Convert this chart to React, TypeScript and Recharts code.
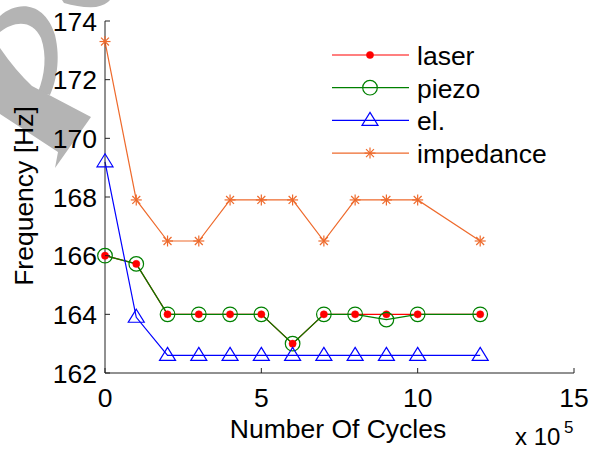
import { Line, LineChart, XAxis, YAxis } from "recharts";

const cycles = [0, 1, 2, 3, 4, 5, 6, 7, 8, 9, 10, 12];
const laser = [166, 165.72, 164, 164, 164, 164, 163, 164, 164, 164, 164, 164];
const piezo = [166, 165.72, 164, 164, 164, 164, 163, 164, 164, 163.82, 164, 164];
const electric = [169.2, 163.9, 162.6, 162.6, 162.6, 162.6, 162.6, 162.6, 162.6, 162.6, 162.6, 162.6];
const impedance = [173.3, 167.9, 166.5, 166.5, 167.9, 167.9, 167.9, 166.5, 167.9, 167.9, 167.9, 166.5];

const xTicks = [0, 5, 10, 15];
const yTicks = [162, 164, 166, 168, 170, 172, 174];

const seriesNames = ["laser", "piezo", "el.", "impedance"];

const RED = "#ff0000";
const GREEN = "#008000";
const BLUE = "#0000ff";
const ORANGE = "#ee6a2c";
const FONT = "'Liberation Sans', Arial, sans-serif";
const FS = 26.5;

const data = cycles.map((c, i) => ({
  x: c,
  laser: laser[i],
  piezo: piezo[i],
  el: electric[i],
  impedance: impedance[i],
}));

type DotProps = { cx?: number; cy?: number; index?: number };

function RedDot({ cx = 0, cy = 0 }: DotProps) {
  return <circle cx={cx} cy={cy} r={3.6} fill={RED} stroke={RED} strokeWidth={0.5} />;
}

function RingDot({ cx = 0, cy = 0 }: DotProps) {
  return <circle cx={cx} cy={cy} r={7.3} fill="none" stroke={GREEN} strokeWidth={1.2} />;
}

function TriDot({ cx = 0, cy = 0 }: DotProps) {
  return (
    <path
      d={`M${cx},${cy - 8} L${cx + 8},${cy + 5} L${cx - 8},${cy + 5} Z`}
      fill="none"
      stroke={BLUE}
      strokeWidth={1.2}
    />
  );
}

function StarDot({ cx = 0, cy = 0 }: DotProps) {
  const r = 5.5;
  const d = r * 0.72;
  return (
    <g stroke={ORANGE} strokeWidth={1.2}>
      <line x1={cx - r} y1={cy} x2={cx + r} y2={cy} />
      <line x1={cx} y1={cy - r} x2={cx} y2={cy + r} />
      <line x1={cx - d} y1={cy - d} x2={cx + d} y2={cy + d} />
      <line x1={cx - d} y1={cy + d} x2={cx + d} y2={cy - d} />
    </g>
  );
}

// ticks drawn pointing into the plot, MATLAB style
function YTick({ x = 0, y = 0, payload }: any) {
  const ax = x + 8;
  return (
    <g>
      <line x1={ax} y1={y} x2={ax + 5} y2={y} stroke="#222" strokeWidth={1} />
      <text x={x} y={y + 9.5} textAnchor="end" fontSize={FS} fontFamily={FONT} fill="#000">
        {payload.value}
      </text>
    </g>
  );
}

function XTick({ x = 0, y = 0, payload }: any) {
  const ay = y - 8;
  return (
    <g>
      <line x1={x} y1={ay} x2={x} y2={ay - 5} stroke="#222" strokeWidth={1} />
      <text x={x} y={ay + 34} textAnchor="middle" fontSize={FS} fontFamily={FONT} fill="#000">
        {payload.value}
      </text>
    </g>
  );
}

const legendRows = [
  { name: seriesNames[0], color: RED, Marker: RedDot },
  { name: seriesNames[1], color: GREEN, Marker: RingDot },
  { name: seriesNames[2], color: BLUE, Marker: TriDot },
  { name: seriesNames[3], color: ORANGE, Marker: StarDot },
];

function LegendBox() {
  return (
    <g>
      {legendRows.map((row, i) => {
        const y = 55 + i * 32.7;
        const M = row.Marker;
        return (
          <g key={row.name}>
            <line x1={332} y1={y} x2={409} y2={y} stroke={row.color} strokeWidth={1.2} />
            <M cx={370} cy={y} />
            <text x={417} y={y + 10} fontSize={FS} fontFamily={FONT} fill="#000">
              {row.name}
            </text>
          </g>
        );
      })}
    </g>
  );
}

export default function App() {
  return (
    <div style={{ position: "absolute", left: 0, top: 0, width: 592, height: 451, background: "#fff" }}>
      <svg width={592} height={451} style={{ position: "absolute", left: 0, top: 0 }}>
        <g fill="#b4b4b4">
          <path d="M62,0 L110,0 Q106,5 96,7 Q80,8 64,3 Z" />
          <path d="M0,16 C18,0 45,2 55,35 C61,60 56,82 50,95 L38,92 C45,75 47,55 41,38 C33,20 15,20 0,32 Z" />
          <path d="M0,48 Q15,70 32,86 L91,117 L55,168 L58,152 L0,114 Z" />
        </g>
      </svg>
      <div style={{ position: "absolute", left: 0, top: 0 }}>
        <LineChart width={592} height={451} data={data} margin={{ top: 21, right: 18, bottom: 28, left: 35 }}>
          <XAxis
            dataKey="x"
            type="number"
            domain={[0, 15]}
            ticks={xTicks}
            height={50}
            tickSize={0}
            tickMargin={8}
            tickLine={false}
            axisLine={{ stroke: "#222", strokeWidth: 1 }}
            tick={<XTick />}
            interval={0}
          />
          <YAxis
            type="number"
            domain={[162, 174]}
            ticks={yTicks}
            width={70}
            tickSize={0}
            tickMargin={8}
            tickLine={false}
            axisLine={{ stroke: "#222", strokeWidth: 1 }}
            tick={<YTick />}
            interval={0}
          />
          <Line dataKey="laser" stroke={RED} strokeWidth={1.2} dot={<RedDot />} isAnimationActive={false} type="linear" />
          <Line dataKey="piezo" stroke={GREEN} strokeWidth={1.2} dot={<RingDot />} isAnimationActive={false} type="linear" />
          <Line dataKey="el" stroke={BLUE} strokeWidth={1.2} dot={<TriDot />} isAnimationActive={false} type="linear" />
          <Line dataKey="impedance" stroke={ORANGE} strokeWidth={1.2} dot={<StarDot />} isAnimationActive={false} type="linear" />
        </LineChart>
      </div>
      <svg width={592} height={451} style={{ position: "absolute", left: 0, top: 0, pointerEvents: "none" }}>
        <LegendBox />
        <text x={338} y={438} textAnchor="middle" fontSize={FS} fontFamily={FONT} fill="#000">
          Number Of Cycles
        </text>
        <text
          x={33}
          y={196}
          textAnchor="middle"
          transform="rotate(-90 33 196)"
          fontSize={FS}
          fontFamily={FONT}
          fill="#000"
        >
          Frequency [Hz]
        </text>
        <text x={515} y={445} fontSize={24} fontFamily={FONT} fill="#000">
          x 10
        </text>
        <text x={564} y={433} fontSize={17} fontFamily={FONT} fill="#000">
          5
        </text>
      </svg>
    </div>
  );
}
